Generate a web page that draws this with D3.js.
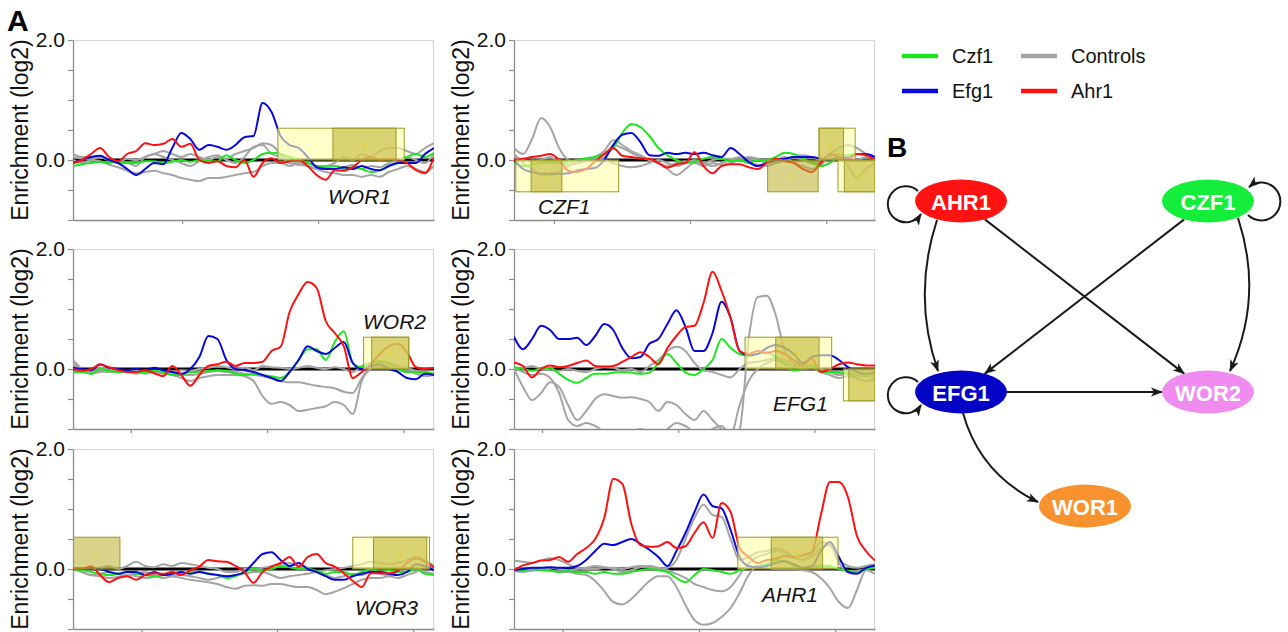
<!DOCTYPE html>
<html><head><meta charset="utf-8">
<script src="https://cdn.jsdelivr.net/npm/d3@7"></script>
<style>body{margin:0;background:#fff}svg{font-family:"Liberation Sans",Arial,sans-serif;display:block}</style>
</head><body>
<svg id="c" width="1288" height="632"></svg>
<script>
// ---------------- DATA ----------------
const genes = ["WOR1","CZF1","WOR2","EFG1","WOR3","AHR1"];
const seriesNames = ["Czf1","Efg1","Ahr1","Controls"];
const yTicks = [-1,-0.5,0,0.5,1,1.5,2];
const yTickLabels = {"2":"2.0","0":"0.0"};
const yLabel = "Enrichment (log2)";

const wor1_czf1 = [-0.1,-0.07,-0.05,-0.03,-0.05,-0.02,-0.05,-0.05,-0.02,-0.02,-0.05,-0.03,0.0,-0.03,0.0,-0.02,-0.02,0.08,0.0,-0.05,0.0,0.1,0.12,0.1,0.05,0.0,-0.05,-0.1,-0.12,-0.1,-0.15,-0.12,-0.15,-0.2,-0.17,-0.1,-0.05,0.05,0.1,0.05,0.12];
const wor1_efg1 = [-0.05,0.0,0.05,0.07,0.0,-0.05,-0.15,-0.25,-0.15,-0.05,-0.07,0.2,0.45,0.35,0.17,0.25,0.22,0.17,0.25,0.38,0.4,0.95,0.8,0.4,0.25,0.2,0.05,-0.12,-0.15,-0.15,-0.12,-0.15,-0.1,-0.15,-0.17,-0.1,-0.05,-0.05,-0.05,0.1,0.2];
const wor1_ahr1 = [-0.05,0.0,0.1,0.2,0.05,-0.02,0.1,0.15,0.28,0.25,0.27,0.35,0.22,0.27,0.0,-0.05,-0.02,-0.1,-0.12,0.0,-0.28,-0.05,0.03,-0.05,-0.02,0.0,-0.1,-0.25,-0.33,-0.17,-0.18,-0.12,0.0,0.05,0.0,0.02,0.0,-0.05,-0.17,-0.22,0.05];
const wor1_ctrl1 = [0.05,0.02,0.0,-0.02,-0.08,-0.12,-0.18,-0.22,-0.2,-0.18,-0.22,-0.25,-0.3,-0.33,-0.35,-0.3,-0.3,-0.28,-0.25,-0.22,-0.2,-0.1,-0.05,-0.05,-0.1,-0.05,-0.1,-0.15,-0.2,-0.22,-0.25,-0.25,-0.28,-0.25,-0.28,-0.2,-0.15,-0.1,-0.15,-0.2,-0.1];
const wor1_ctrl2 = [0.1,0.05,0.05,0.05,0.0,-0.05,-0.05,-0.1,0.05,0.1,0.15,0.1,0.05,0.1,0.05,0.0,0.05,0.02,0.1,0.15,0.2,0.28,0.25,0.1,0.0,-0.05,-0.05,-0.1,-0.1,-0.05,0.05,0.0,0.1,0.05,0.15,0.2,0.2,0.15,0.1,0.2,0.28];
const wor1_ctrl3 = [0.0,-0.05,0.0,0.05,0.0,-0.03,0.02,0.0,0.05,0.1,0.05,0.0,-0.05,-0.1,-0.02,0.05,0.08,0.0,-0.05,0.05,0.22,0.25,0.1,0.05,-0.05,-0.08,-0.1,-0.15,-0.12,-0.1,-0.12,-0.08,-0.15,-0.1,-0.12,-0.05,0.0,0.05,0.0,-0.05,0.1];

const czf1_czf1 = [-0.05,-0.1,-0.08,-0.05,-0.05,-0.05,-0.03,0.0,0.03,0.05,0.1,0.2,0.45,0.6,0.55,0.4,0.2,0.08,0.0,-0.05,-0.03,0.02,0.05,0.02,-0.02,0.0,-0.05,0.0,0.0,0.05,0.12,0.1,0.03,-0.05,-0.1,-0.05,0.05,0.08,0.1,0.08,0.05];
const czf1_efg1 = [0.0,-0.15,-0.2,-0.23,-0.23,-0.23,-0.22,-0.18,-0.15,-0.13,0.0,0.25,0.42,0.45,0.3,0.08,0.07,0.12,0.1,0.12,0.1,0.12,0.08,0.05,0.2,0.1,-0.03,-0.1,-0.05,0.0,0.02,0.05,0.05,0.05,0.02,0.0,0.05,0.03,0.1,0.1,0.05];
const czf1_ahr1 = [0.0,0.02,0.05,0.07,0.1,0.0,-0.18,-0.2,-0.15,-0.02,0.1,0.2,0.07,0.05,0.03,0.02,-0.05,-0.13,-0.07,-0.05,0.13,-0.1,-0.22,-0.1,-0.07,-0.07,-0.12,-0.15,-0.05,0.02,-0.02,-0.05,-0.15,-0.2,-0.05,0.1,0.05,0.0,0.1,0.08,0.0];
const czf1_ctrl1 = [0.2,0.1,0.35,0.7,0.55,0.2,0.0,-0.05,-0.02,0.0,0.05,0.25,0.2,0.12,0.05,0.0,-0.05,-0.15,-0.25,-0.15,-0.05,-0.1,-0.05,-0.08,-0.05,0.0,0.05,0.02,-0.05,0.0,0.05,-0.05,-0.1,-0.15,-0.08,0.05,0.1,-0.1,-0.3,-0.15,-0.05];
const czf1_ctrl2 = [0.1,-0.05,-0.15,-0.25,-0.25,-0.2,-0.1,-0.05,0.0,0.05,0.15,0.33,0.25,0.15,0.08,0.0,-0.05,-0.1,-0.05,-0.02,-0.05,-0.05,0.0,0.02,0.02,0.0,-0.05,-0.08,-0.1,-0.05,0.0,0.05,0.08,0.05,0.0,0.1,0.2,0.25,0.2,0.1,0.0];
const czf1_ctrl3 = [0.05,0.0,-0.03,0.0,0.05,-0.05,-0.08,-0.05,0.0,0.02,0.0,-0.05,-0.1,-0.12,-0.1,-0.05,0.0,-0.05,-0.1,-0.05,0.0,-0.05,-0.1,-0.05,0.0,0.05,0.0,0.02,-0.05,-0.05,0.0,0.05,0.0,-0.05,-0.05,0.05,0.1,0.05,0.0,0.05,0.05];

const wor2_czf1 = [-0.05,-0.05,-0.08,0.0,-0.03,-0.05,-0.03,-0.05,-0.05,-0.03,-0.05,-0.1,-0.1,-0.05,-0.05,-0.03,-0.02,-0.03,-0.08,-0.1,-0.08,-0.1,-0.12,-0.15,-0.05,0.15,0.33,0.33,0.15,0.45,0.63,0.1,0.03,0.1,0.13,0.1,0.0,-0.05,-0.05,-0.05,-0.08];
const wor2_efg1 = [0.02,0.0,-0.02,0.08,0.02,0.0,-0.02,0.0,-0.02,0.02,-0.02,-0.05,-0.08,0.0,0.2,0.55,0.5,0.15,0.0,-0.02,-0.05,-0.1,-0.15,-0.2,-0.05,0.15,0.38,0.3,0.25,0.35,0.45,0.1,0.0,0.05,0.08,0.0,-0.05,-0.15,-0.17,-0.08,-0.1];
const wor2_ahr1 = [0.0,-0.03,0.0,0.07,0.03,-0.02,-0.05,-0.05,-0.02,-0.07,-0.12,0.05,-0.1,-0.28,-0.1,0.05,0.08,0.12,0.05,0.1,0.1,0.12,0.3,0.37,0.95,1.25,1.45,1.35,0.8,0.6,0.38,-0.15,-0.05,0.08,0.25,0.38,0.42,0.28,0.03,0.0,0.02];
const wor2_ctrl1 = [0.05,-0.05,-0.05,-0.03,-0.05,-0.05,-0.05,-0.08,-0.05,-0.05,-0.08,-0.1,-0.15,-0.2,-0.15,-0.12,-0.1,-0.1,-0.1,-0.12,-0.2,-0.45,-0.58,-0.55,-0.6,-0.7,-0.68,-0.65,-0.62,-0.55,-0.6,-0.75,-0.2,0.0,0.05,0.05,0.0,-0.05,-0.05,-0.1,-0.1];
const wor2_ctrl2 = [0.15,0.0,-0.08,-0.05,-0.03,-0.05,-0.05,-0.05,-0.08,-0.05,-0.05,-0.08,-0.1,-0.1,-0.08,-0.05,-0.03,-0.05,-0.05,-0.08,-0.1,-0.12,-0.15,-0.2,-0.22,-0.22,-0.25,-0.28,-0.3,-0.32,-0.38,-0.4,-0.15,0.02,0.08,0.05,0.02,0.0,-0.08,-0.12,-0.1];
const wor2_ctrl3 = [0.1,-0.02,-0.05,0.02,0.0,-0.03,-0.05,-0.02,-0.05,-0.03,-0.05,-0.05,-0.02,-0.03,0.0,0.02,0.05,0.03,0.0,0.02,-0.02,0.05,0.03,0.02,0.0,0.02,0.05,0.02,0.0,0.03,0.0,-0.05,0.05,0.1,0.12,0.1,0.05,0.02,-0.03,-0.05,-0.08];

const efg1_czf1 = [0.03,0.0,-0.03,0.0,0.02,-0.08,-0.18,-0.23,-0.15,-0.08,-0.08,-0.06,-0.05,-0.06,-0.08,-0.06,0.1,0.25,0.1,-0.06,-0.1,0.0,0.15,0.5,0.35,0.25,0.22,0.25,0.28,0.2,0.08,-0.03,0.0,0.05,-0.05,-0.05,-0.05,-0.08,-0.1,-0.11,-0.1];
const efg1_efg1 = [0.54,0.33,0.5,0.72,0.65,0.5,0.5,0.52,0.4,0.55,0.75,0.65,0.35,0.18,0.2,0.42,0.5,0.75,0.98,0.7,0.3,0.3,0.6,1.12,0.85,0.3,0.23,0.25,0.35,0.4,0.35,0.25,0.1,0.2,0.23,0.23,0.15,0.03,-0.05,-0.08,-0.06];
const efg1_ahr1 = [0.11,0.05,-0.14,0.0,0.06,0.03,0.05,0.1,0.14,0.05,0.04,0.05,0.12,0.2,0.28,0.2,0.08,0.35,0.55,0.7,0.72,1.1,1.62,1.3,0.85,0.3,0.25,0.3,0.27,0.3,0.25,0.15,0.06,0.17,-0.05,0.0,0.08,0.11,0.08,0.06,0.06];
const efg1_ctrl1 = [0.0,-0.3,-0.52,-0.4,-0.22,-0.3,-0.6,-0.85,-0.7,-0.5,-0.42,-0.45,-0.48,-0.47,-0.5,-0.55,-0.7,-0.55,-0.6,-0.75,-0.85,-0.7,-0.85,-1.0,-1.1,-1.0,0.5,1.2,1.22,0.9,0.3,0.1,0.0,0.05,0.0,-0.05,-0.1,-0.08,-0.15,-0.2,-0.18];
const efg1_ctrl2 = [0.02,-0.05,-0.1,-0.08,-0.15,-0.4,-0.85,-0.95,-0.9,-0.95,-1.05,-1.1,-1.1,-1.05,-1.0,-1.05,-1.1,-1.0,-0.9,-0.95,-1.05,-1.1,-1.0,-0.95,-1.1,-0.6,-0.2,0.0,0.1,0.15,0.1,0.05,0.0,0.02,-0.05,-0.1,-0.15,-0.12,-0.15,-0.2,-0.15];
const efg1_ctrl3 = [0.0,0.02,0.05,0.0,-0.02,-0.03,0.0,-0.03,-0.05,0.0,0.03,0.02,-0.02,0.0,-0.05,0.05,0.15,0.3,0.37,0.3,0.1,-0.02,-0.05,-0.1,-0.14,0.0,0.1,0.12,0.15,0.18,0.15,0.1,0.02,0.08,0.0,-0.05,-0.08,-0.05,-0.1,-0.12,-0.1];

const wor3_czf1 = [0.0,-0.02,-0.05,-0.08,-0.1,-0.08,-0.05,-0.08,-0.1,-0.12,-0.1,-0.05,-0.08,-0.05,-0.05,-0.08,-0.1,-0.15,-0.12,-0.05,0.0,-0.02,0.0,0.05,0.03,0.0,0.0,-0.03,-0.08,-0.05,-0.05,-0.1,-0.05,0.0,-0.05,-0.02,-0.05,-0.05,0.0,-0.08,-0.1];
const wor3_efg1 = [0.0,0.0,0.0,0.0,-0.05,-0.08,-0.05,-0.05,-0.1,-0.05,-0.1,-0.08,-0.05,-0.08,-0.05,-0.08,-0.1,-0.12,-0.1,-0.05,0.1,0.25,0.28,0.15,0.05,0.1,0.0,-0.05,-0.12,-0.18,-0.18,-0.12,-0.08,-0.05,-0.05,-0.08,-0.1,-0.05,0.08,0.05,-0.02];
const wor3_ahr1 = [0.0,0.0,0.04,-0.1,-0.22,-0.15,-0.12,-0.18,-0.1,-0.07,-0.08,-0.05,-0.1,-0.02,0.04,0.15,0.13,0.12,0.05,-0.05,-0.23,-0.05,0.04,0.1,0.2,0.04,0.2,0.25,0.1,0.04,-0.07,-0.2,-0.3,-0.07,-0.07,-0.07,-0.03,0.1,0.18,0.12,0.03];
const wor3_ctrl1 = [0.0,-0.05,-0.1,-0.12,-0.15,-0.13,-0.1,-0.12,-0.15,-0.13,-0.1,-0.12,-0.15,-0.18,-0.2,-0.22,-0.25,-0.3,-0.33,-0.28,-0.27,-0.28,-0.25,-0.25,-0.28,-0.3,-0.3,-0.35,-0.42,-0.38,-0.32,-0.25,-0.18,-0.15,-0.15,-0.12,-0.15,-0.1,-0.05,0.05,0.0];
const wor3_ctrl2 = [0.0,-0.02,0.0,0.02,0.05,0.0,0.05,0.12,0.05,0.03,0.08,0.05,0.1,0.08,0.05,0.02,0.0,-0.05,-0.05,0.0,0.0,0.02,0.05,0.08,0.1,0.05,0.02,-0.05,-0.02,0.0,0.02,0.05,0.08,0.12,0.1,0.08,0.1,0.15,0.2,0.15,0.05];
const wor3_ctrl3 = [0.0,-0.05,-0.1,-0.08,-0.05,-0.08,-0.12,-0.08,-0.05,-0.1,-0.15,-0.12,-0.1,-0.12,-0.15,-0.18,-0.15,-0.12,-0.1,-0.08,-0.05,-0.05,-0.1,-0.15,-0.12,-0.1,-0.08,-0.05,-0.1,-0.15,-0.12,-0.08,-0.1,-0.05,-0.08,-0.1,-0.05,-0.02,0.0,-0.05,-0.08];

const ahr1_czf1 = [-0.03,-0.02,0.0,-0.02,-0.03,-0.05,-0.03,-0.05,-0.05,-0.08,-0.05,-0.08,-0.08,-0.05,-0.02,0.0,-0.02,-0.05,-0.15,-0.22,-0.1,0.0,-0.02,-0.05,-0.08,-0.02,0.02,0.05,0.08,0.15,0.12,0.05,0.02,0.05,0.06,0.05,0.0,-0.03,-0.05,0.0,0.03];
const ahr1_efg1 = [-0.02,0.0,0.02,0.02,0.03,0.02,0.02,0.05,0.15,0.3,0.42,0.4,0.45,0.5,0.42,0.32,0.2,0.05,0.3,0.6,0.95,1.24,1.05,1.01,0.65,0.2,0.05,0.03,0.05,0.1,0.13,0.08,0.02,0.05,0.3,0.45,0.2,-0.05,-0.08,0.02,0.06];
const ahr1_ahr1 = [-0.02,0.06,0.1,0.14,0.15,0.2,0.12,0.25,0.35,0.5,0.85,1.5,1.42,0.75,0.4,0.37,0.38,0.45,0.35,0.38,0.6,0.78,0.52,1.1,0.95,0.35,0.2,0.1,0.15,0.17,0.22,0.2,0.23,0.28,0.9,1.45,1.45,1.2,0.55,0.3,0.14];
const ahr1_ctrl1 = [0.14,0.12,0.1,0.14,0.18,0.15,0.08,0.02,0.0,0.0,0.02,0.02,0.0,0.03,0.05,0.03,0.0,0.02,0.15,0.5,0.85,1.07,0.9,0.87,0.5,0.15,0.2,0.28,0.3,0.34,0.3,0.2,0.15,0.25,0.45,0.4,0.15,0.05,0.02,0.05,0.08];
const ahr1_ctrl2 = [-0.03,-0.05,-0.02,0.0,-0.02,-0.05,-0.05,-0.08,-0.1,-0.2,-0.37,-0.55,-0.59,-0.5,-0.35,-0.2,-0.12,-0.12,-0.3,-0.6,-0.85,-0.93,-0.9,-0.8,-0.65,-0.4,-0.1,0.05,0.03,0.0,0.0,0.0,-0.02,-0.05,-0.15,-0.32,-0.55,-0.65,-0.35,-0.02,-0.08];
const ahr1_ctrl3 = [0.02,0.0,-0.03,0.0,0.02,0.0,-0.02,0.0,0.02,0.05,0.03,0.0,-0.05,-0.02,0.03,0.05,0.02,-0.02,-0.08,-0.15,-0.25,-0.3,-0.35,-0.37,-0.3,-0.1,0.1,0.2,0.25,0.3,0.28,0.2,0.15,0.2,0.35,0.4,0.1,-0.05,-0.03,0.0,0.02];

// gene features: [start, end, kind, strand]
const wor1_feat = [[22.7,36.7,"utr",1],[28.8,35.8,"orf",1]];
const czf1_feat = [[0.2,11.6,"utr",-1],[1.9,5.3,"orf",-1],[28.1,33.7,"orf",-1],[33.8,37.8,"utr",1],[33.8,36.5,"orf",1],[35.9,40,"utr",-1],[36.6,40,"orf",-1]];
const wor2_feat = [[32.2,37.2,"utr",1],[33.1,37.2,"orf",1]];
const efg1_feat = [[25.6,35.2,"utr",1],[29,33.8,"orf",1],[36.5,40,"utr",-1],[37.1,40,"orf",-1]];
const wor3_feat = [[0,5.2,"orf",1],[31,39.5,"utr",1],[33.3,39.2,"orf",1]];
const ahr1_feat = [[24.8,35.9,"utr",1],[28.5,34.2,"orf",1]];

// x tick positions (genomic coordinate units)
const wor1_xt = [12.08,27.15];
const czf1_xt = [4.43,19.5,34.6];
const wor2_xt = [6.4,21.5,36.6];
const efg1_xt = [3.1,18.2,33.3];
const wor3_xt = [7.6,22.6,37.7];
const ahr1_xt = [5.4,20.5,35.6];

// network
const netNodes = ["AHR1","CZF1","EFG1","WOR2","WOR1"];
const netEdges = [["AHR1","AHR1"],["AHR1","EFG1"],["AHR1","WOR2"],["CZF1","CZF1"],["CZF1","EFG1"],["CZF1","WOR2"],["EFG1","EFG1"],["EFG1","WOR2"],["EFG1","WOR1"]];

// ---------------- ASSEMBLY ----------------
const panels = [
  {gene:genes[0], czf1:wor1_czf1, efg1:wor1_efg1, ahr1:wor1_ahr1, ctrl:[wor1_ctrl1,wor1_ctrl2,wor1_ctrl3], feat:wor1_feat, xt:wor1_xt},
  {gene:genes[1], czf1:czf1_czf1, efg1:czf1_efg1, ahr1:czf1_ahr1, ctrl:[czf1_ctrl1,czf1_ctrl2,czf1_ctrl3], feat:czf1_feat, xt:czf1_xt},
  {gene:genes[2], czf1:wor2_czf1, efg1:wor2_efg1, ahr1:wor2_ahr1, ctrl:[wor2_ctrl1,wor2_ctrl2,wor2_ctrl3], feat:wor2_feat, xt:wor2_xt},
  {gene:genes[3], czf1:efg1_czf1, efg1:efg1_efg1, ahr1:efg1_ahr1, ctrl:[efg1_ctrl1,efg1_ctrl2,efg1_ctrl3], feat:efg1_feat, xt:efg1_xt},
  {gene:genes[4], czf1:wor3_czf1, efg1:wor3_efg1, ahr1:wor3_ahr1, ctrl:[wor3_ctrl1,wor3_ctrl2,wor3_ctrl3], feat:wor3_feat, xt:wor3_xt},
  {gene:genes[5], czf1:ahr1_czf1, efg1:ahr1_efg1, ahr1:ahr1_ahr1, ctrl:[ahr1_ctrl1,ahr1_ctrl2,ahr1_ctrl3], feat:ahr1_feat, xt:ahr1_xt}
];

// ---------------- STYLE / LAYOUT ----------------
const col = {Czf1:"#1ee61e", Efg1:"#0808d8", Ahr1:"#ff1010", Controls:"#a4a4a4"};
const W = 361, H = 180, XMAX = 40;
const panelPos = [[73,40],[514,40],[73,249],[514,249],[73,449],[514,449]];
const labelPos = [[328,204],[538,214],[363,329],[773,411],[355,615],[762,602]];

const svg = d3.select("#c");
const defs = svg.append("defs");

const x = d3.scaleLinear().domain([0, XMAX]).range([0, W]);
const y = d3.scaleLinear().domain([-1, 2]).range([H, 0]);

panels.forEach((p, k) => {
  const [px, py] = panelPos[k];
  const g = svg.append("g").attr("transform", `translate(${px},${py})`);
  defs.append("clipPath").attr("id", "clip" + k)
    .append("rect").attr("x", 0).attr("y", 0).attr("width", W).attr("height", H);

  // frame (top & right)
  g.append("path").attr("d", `M0,0.5H${W - 0.5}V${H}`).attr("fill", "none")
    .attr("stroke", "#d6d6d6").attr("stroke-width", 1.2);

  // y axis
  const ya = g.append("g").call(d3.axisLeft(y).tickValues(yTicks).tickSize(5).tickSizeOuter(0)
      .tickFormat(d => yTickLabels[String(d)] || ""));
  ya.select(".domain").attr("stroke", "#8c8c8c").attr("stroke-width", 1.3);
  ya.selectAll(".tick line").attr("stroke", "#8c8c8c").attr("stroke-width", 1.2);
  ya.selectAll(".tick text").attr("font-size", 21).attr("fill", "#111")
    .attr("font-family", "Liberation Sans, Arial, sans-serif");

  // x axis
  const xa = g.append("g").attr("transform", `translate(0,${H})`)
    .call(d3.axisBottom(x).tickValues(p.xt).tickSize(4).tickSizeOuter(0).tickFormat(""));
  xa.select(".domain").attr("stroke", "#8c8c8c").attr("stroke-width", 1.3);
  xa.selectAll(".tick line").attr("stroke", "#8c8c8c").attr("stroke-width", 1.2);

  // y label
  svg.append("text").attr("transform", `translate(${px - 53},${py + H / 2}) rotate(-90)`)
    .attr("text-anchor", "middle").attr("dominant-baseline", "central")
    .attr("font-size", 23).attr("fill", "#111").text(yLabel);

  const plot = g.append("g").attr("clip-path", `url(#clip${k})`);

  // zero line
  plot.append("line").attr("x1", 0).attr("x2", W).attr("y1", y(0)).attr("y2", y(0))
    .attr("stroke", "#000").attr("stroke-width", 2.8);

  const line = arr => d3.line()
    .x((d, i) => x(i * XMAX / (arr.length - 1)))
    .y(d => y(d))
    .curve(d3.curveMonotoneX)(arr);

  p.ctrl.forEach(c => plot.append("path").attr("d", line(c)).attr("fill", "none")
    .attr("stroke", col.Controls).attr("stroke-width", 2));
  [["Czf1", p.czf1], ["Efg1", p.efg1], ["Ahr1", p.ahr1]].forEach(([n, arr]) =>
    plot.append("path").attr("d", line(arr)).attr("fill", "none")
      .attr("stroke", col[n]).attr("stroke-width", 2));

  // feature boxes
  const bh = 0.53;
  p.feat.forEach(([s, e, kind, strand]) => {
    const y0 = strand > 0 ? y(bh) : y(0);
    const y1 = strand > 0 ? y(0) : y(-bh);
    plot.append("rect").attr("x", x(s)).attr("y", y0).attr("width", x(e) - x(s)).attr("height", y1 - y0)
      .attr("fill", kind === "utr" ? "rgba(255,255,170,0.62)" : "rgba(186,176,40,0.55)")
      .attr("stroke", "#9c9a2c").attr("stroke-width", 1);
    if (kind === "orf") {
      plot.append("text").attr("x", x((s + e) / 2)).attr("y", (y0 + y1) / 2)
        .attr("text-anchor", "middle").attr("dominant-baseline", "central")
        .attr("font-size", 13).attr("fill", "#e2d21a").text(strand > 0 ? "›" : "‹");
    }
  });

  // gene label
  svg.append("text").attr("x", labelPos[k][0]).attr("y", labelPos[k][1])
    .attr("font-size", 21).attr("font-style", "italic").attr("fill", "#111").text(p.gene);
});

// panel letters
svg.append("text").attr("x", 7).attr("y", 31).attr("font-size", 30).attr("font-weight", "bold").text("A");
svg.append("text").attr("x", 887).attr("y", 157).attr("font-size", 28).attr("font-weight", "bold").text("B");

// legend
const legPos = [[902,56],[902,91],[1021,91],[1021,56]]; // Czf1, Efg1, Ahr1, Controls
seriesNames.forEach((n, i) => {
  const [lx, ly] = legPos[i];
  svg.append("line").attr("x1", lx).attr("x2", lx + 36).attr("y1", ly).attr("y2", ly)
    .attr("stroke", col[n]).attr("stroke-width", 4.5);
  svg.append("text").attr("x", lx + 50).attr("y", ly).attr("dominant-baseline", "central")
    .attr("font-size", 20).attr("fill", "#111").text(n);
});

// network
const nodeColor = {AHR1:"#ff1212", CZF1:"#14ee3a", EFG1:"#0404c4", WOR2:"#f08cf0", WOR1:"#f7922e"};
const nodePos = {AHR1:[961,201], CZF1:[1208,201], EFG1:[961,392], WOR2:[1208,392], WOR1:[1085,506]};
const RX = 46, RY = 21.5;
const curveSpec = {
  "AHR1>EFG1": {s:[-24,19], e:[-23,-21], c:[-49,0]},
  "CZF1>WOR2": {s:[30,17], e:[22,-21], c:[56,0]},
  "EFG1>WOR1": {s:[2,21], e:[-47,-4], c:[-43,25]}
};
const loopSpec = {
  AHR1: {s:[-43,-10], e:[-40,13], r:18, sweep:0},
  EFG1: {s:[-43,-10], e:[-40,13], r:18, sweep:0},
  CZF1: {s:[40,14], e:[41,-14], r:19, sweep:0}
};

const mk = defs.append("marker").attr("id", "arr").attr("viewBox", "0 -5 12 10")
  .attr("refX", 11).attr("refY", 0).attr("markerWidth", 12).attr("markerHeight", 10)
  .attr("markerUnits", "userSpaceOnUse").attr("orient", "auto");
mk.append("path").attr("d", "M0,-4.5L12,0L0,4.5L3,0Z").attr("fill", "#1a1a1a");

function boundary(a, b) {
  const dx = b[0] - a[0], dy = b[1] - a[1];
  const t = 1 / Math.sqrt((dx / RX) ** 2 + (dy / RY) ** 2);
  return [a[0] + dx * t, a[1] + dy * t];
}

const eg = svg.append("g").attr("fill", "none").attr("stroke", "#1a1a1a").attr("stroke-width", 2);
netEdges.forEach(([a, b]) => {
  const A = nodePos[a], B = nodePos[b];
  let d;
  if (a === b) {
    const L = loopSpec[a];
    const s = [A[0] + L.s[0], A[1] + L.s[1]], e = [A[0] + L.e[0], A[1] + L.e[1]];
    d = `M${s[0]},${s[1]}A${L.r},${L.r} 0 1 ${L.sweep} ${e[0]},${e[1]}`;
  } else if (curveSpec[a + ">" + b]) {
    const C = curveSpec[a + ">" + b];
    const s = [A[0] + C.s[0], A[1] + C.s[1]], e = [B[0] + C.e[0], B[1] + C.e[1]];
    const cx = (A[0] + B[0]) / 2 + C.c[0], cy = (A[1] + B[1]) / 2 + C.c[1];
    d = `M${s[0]},${s[1]}Q${cx},${cy} ${e[0]},${e[1]}`;
  } else {
    const s = boundary(A, B), e = boundary(B, A);
    d = `M${s[0]},${s[1]}L${e[0]},${e[1]}`;
  }
  eg.append("path").attr("d", d).attr("marker-end", "url(#arr)");
});

const ng = svg.append("g");
netNodes.forEach(n => {
  const [cx, cy] = nodePos[n];
  ng.append("ellipse").attr("cx", cx).attr("cy", cy).attr("rx", RX).attr("ry", RY).attr("fill", nodeColor[n]);
  ng.append("text").attr("x", cx).attr("y", cy + 1).attr("text-anchor", "middle")
    .attr("dominant-baseline", "central").attr("font-size", 22).attr("font-weight", "bold")
    .attr("fill", "#fff").text(n);
});
</script>
</body></html>
